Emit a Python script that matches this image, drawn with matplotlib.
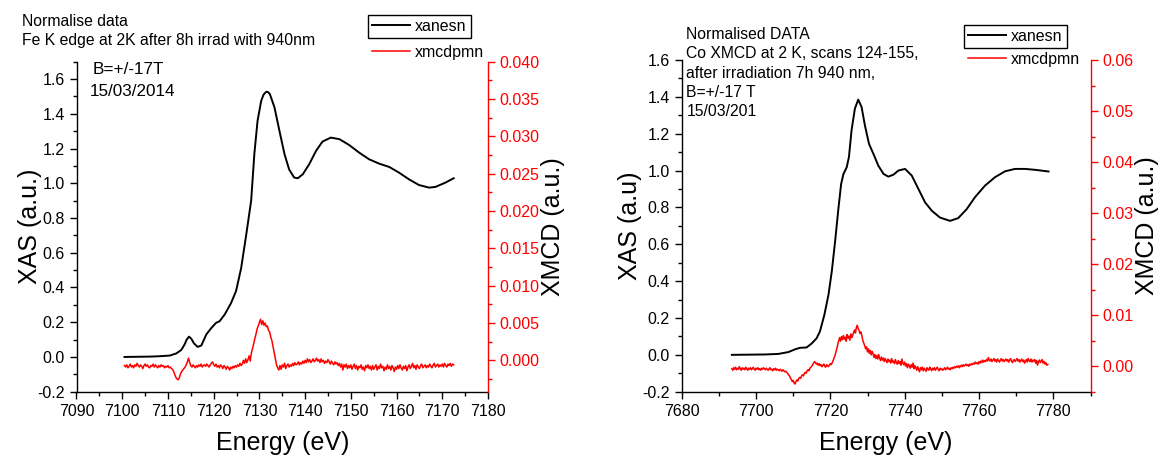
import numpy as np
import matplotlib.pyplot as plt
from matplotlib.ticker import MultipleLocator, FormatStrFormatter

plt.rcParams['font.family'] = ['Liberation Sans', 'DejaVu Sans']
plt.rcParams['axes.unicode_minus'] = False

# ---- Fe K edge (lijevi graf) ----
fe_x = [7100.5, 7103, 7106, 7108, 7110.4, 7111.8, 7112.9, 7113.6, 7114.1, 7114.6, 7115.1,
        7115.7, 7116.5, 7117.3, 7118.4, 7119.5, 7120.5, 7121.3, 7122.4, 7123.8, 7124.9,
        7126.0, 7127.1, 7128.2, 7128.9, 7129.6, 7130.4, 7130.9, 7131.5, 7131.9, 7132.3,
        7133.3, 7134.4, 7135.5, 7136.5, 7137.6, 7138.4, 7139.5, 7140.9, 7142.4, 7143.8,
        7145.6, 7147.5, 7149.6, 7151.8, 7154.0, 7156.2, 7158.4, 7160.5, 7162.7, 7164.9,
        7167.1, 7168.5, 7170.7, 7172.5]
fe_xas = [0.0, 0.001, 0.002, 0.004, 0.008, 0.02, 0.04, 0.07, 0.10, 0.117, 0.105,
          0.078, 0.058, 0.066, 0.13, 0.167, 0.196, 0.206, 0.244, 0.31, 0.38,
          0.51, 0.70, 0.90, 1.17, 1.36, 1.475, 1.51, 1.527, 1.525, 1.513,
          1.437, 1.30, 1.167, 1.08, 1.033, 1.029, 1.052, 1.11, 1.187, 1.24,
          1.263, 1.254, 1.221, 1.177, 1.138, 1.113, 1.094, 1.062, 1.023, 0.99,
          0.975, 0.979, 1.004, 1.029]

# xmcd u jedinicama 1e-3, korak 0.25 eV od 7100.5
fe_x0 = 7100.5
fe_xmcd = [
    # 7100.5 - 7110.5
    -0.7, -0.9, -0.6, -1.0, -0.8, -0.5, -0.9, -0.7, -1.0, -0.6,
    -0.8, -0.4, -0.7, -0.9, -0.6, -0.8, -1.1, -0.7, -0.5, -0.8,
    -0.6, -0.9, -1.0, -0.7, -0.8, -0.5, -0.9, -0.6, -0.8, -1.0,
    -0.7, -0.9, -0.6, -0.8, -0.7, -1.0, -0.8, -0.9, -0.7, -1.0,
    -0.9,
    # 7110.75 - 7114.5 (udubljenje)
    -1.1, -1.2, -1.5, -1.9, -2.3, -2.5, -2.6, -2.3, -1.8, -1.5,
    -1.3, -1.1, -0.9, -0.6, -0.2, 0.3,
    # 7114.75 - 7127.5
    -0.3, -0.7, -0.9, -0.6, -0.8, -1.0, -0.7, -0.9, -0.6, -0.8,
    -0.5, -0.9, -0.7, -0.6, -0.8, -0.5, -0.7, -0.9, -0.6, -0.4,
    -0.2, -0.6, -0.8, -0.5, -0.9, -0.7, -1.0, -0.6, -0.8, -1.1,
    -0.7, -0.9, -1.2, -0.8, -1.0, -1.3, -0.9, -1.1, -0.8, -1.0,
    -0.7, -0.9, -0.6, -0.8, -0.4, -0.7, -0.5, 0.0, -0.4, 0.2,
    -0.3, 0.1,
    # 7127.75 - 7134.5 (pik)
    0.6, -0.1, 1.0, 1.6, 2.2, 2.9, 3.5, 4.2, 4.6, 5.1,
    5.5, 4.8, 5.3, 4.7, 5.0, 4.5, 4.6, 4.0, 3.8, 3.1,
    2.6, 1.8, 1.0, 0.2, -0.6, -1.0, -1.3, -0.7,
    # 7134.75 - 7172.5
    -1.2, -0.6, -0.9, -0.4, -1.1, -0.7, -0.5, -0.9, -0.6, -0.8,
    -0.4, -0.7, -0.3, -0.6, -0.5, -0.2, -0.6, -0.3, -0.5, -0.1,
    -0.4, 0.0, -0.3, 0.2, -0.2, 0.1, -0.3, -0.1, 0.2, -0.2,
    0.0, 0.3, -0.1, 0.1, -0.3, 0.2, -0.2, 0.0, -0.4, -0.1,
    -0.3, 0.1, -0.2, -0.5, -0.1, -0.4, -0.6, -0.2, -0.5, -0.3,
    -0.7, -0.4, -0.9, -0.5, -1.3, -0.6, -0.9, -0.5, -1.1, -0.7,
    -1.0, -0.6, -1.2, -0.8, -0.5, -1.1, -0.7, -1.3, -0.8, -1.0,
    -0.6, -1.2, -0.9, -1.4, -0.7, -1.0, -0.6, -1.1, -0.8, -1.3,
    -0.7, -1.2, -0.9, -0.6, -1.3, -0.8, -1.1, -0.5, -1.0, -0.8,
    -1.4, -0.9, -1.2, -0.6, -1.1, -0.8, -1.3, -0.7, -1.0, -1.5,
    -0.9, -1.2, -0.7, -1.1, -0.6, -1.0, -1.3, -0.8, -1.1, -0.7,
    -1.4, -0.9, -0.6, -1.1, -0.8, -0.4, -1.0, -0.7, -1.2, -0.6,
    -0.9, -1.1, -0.7, -0.5, -1.0, -0.8, -0.6, -1.0, -0.7, -0.9,
    -0.5, -0.8, -1.0, -0.6, -0.4, -0.9, -0.7, -0.5, -0.9, -0.6,
    -0.8, -0.5, -0.9, -0.4, -0.7, -0.9, -0.5, -0.7, -0.4, -0.8,
    -0.5, -0.6]

# ---- Co XMCD (desni graf) ----
co_x = [7693.5, 7698, 7702.4, 7706.0, 7708.7, 7710.5, 7711.8, 7713.6, 7715.0, 7716.3,
        7717.2, 7718.4, 7719.5, 7720.4, 7721.3, 7722.2, 7722.9, 7723.5, 7724.4, 7725.0,
        7725.7, 7726.6, 7727.5, 7728.4, 7729.3, 7730.4, 7731.6, 7732.9, 7734.3, 7735.6,
        7737.0, 7738.3, 7740.1, 7741.9, 7743.7, 7745.5, 7747.3, 7749.5, 7752.2, 7754.4,
        7756.7, 7758.9, 7761.6, 7764.3, 7767.0, 7769.7, 7772.4, 7775.1, 7778.7]
co_xas = [0.0, 0.001, 0.002, 0.005, 0.015, 0.03, 0.038, 0.04, 0.062, 0.09,
          0.127, 0.218, 0.327, 0.455, 0.62, 0.80, 0.927, 0.98, 1.018, 1.073,
          1.218, 1.336, 1.385, 1.345, 1.245, 1.145, 1.09, 1.027, 0.982, 0.967,
          0.978, 1.0, 1.009, 0.973, 0.90, 0.827, 0.782, 0.745, 0.727, 0.742,
          0.791, 0.855, 0.918, 0.964, 0.996, 1.009, 1.009, 1.004, 0.995]

co_x0 = 7693.5
co_xmcd = [
    # 7693.5 - 7707.75
    -0.5, -0.8, -0.3, -0.6, -0.2, -0.7, -0.4, -0.6, -0.1, -0.5,
    -0.8, -0.3, -0.6, -0.4, -0.7, -0.2, -0.5, -0.8, -0.4, -0.6,
    -0.3, -0.7, -0.5, -0.2, -0.6, -0.8, -0.4, -0.6, -0.3, -0.7,
    -0.5, -0.8, -0.4, -0.6, -0.3, -0.5, -0.7, -0.4, -0.6, -0.8,
    -0.5, -0.3, -0.7, -0.6, -0.9, -0.5, -0.7, -0.4, -0.8, -0.6,
    -0.7, -0.9, -0.6, -0.8, -1.0, -0.7, -0.9, -1.1,
    # 7708 - 7715 (udubljenje)
    -1.0, -1.2, -1.4, -1.7, -1.9, -2.3, -2.6, -3.0, -2.8, -3.3,
    -3.5, -3.0, -2.7, -2.9, -2.4, -2.2, -2.4, -1.9, -1.7, -1.9,
    -1.4, -1.2, -1.4, -0.9, -0.7, -0.9, -0.4, -0.2, 0.0,
    # 7715.25 - 7720.75
    0.3, 0.6, 0.9, 0.7, 0.4, 0.6, 0.2, 0.5, 0.1, 0.3,
    -0.1, 0.2, 0.4, 0.0, -0.2, 0.3, 0.1, -0.1, 0.2, 0.5,
    0.3, 0.7, 1.1,
    # 7721 - 7729.75 (pik)
    1.6, 2.1, 2.8, 3.5, 4.3, 5.0, 5.6, 4.9,
    5.8, 5.2, 6.0, 5.3, 5.7, 4.9, 6.2, 5.5,
    5.9, 5.1, 6.3, 5.6, 6.0, 6.6, 7.1, 6.5,
    7.6, 8.0, 7.3, 7.0, 6.4, 6.7, 5.8, 5.0,
    4.5, 4.0, 3.4, 3.8,
    # 7730 - 7778.5
    2.8, 3.4, 2.5, 3.1, 2.2, 2.9, 2.4, 1.7, 2.3, 1.5,
    2.1, 1.4, 2.3, 1.6, 1.1, 1.8, 1.2, 1.6, 0.9, 1.5,
    1.1, 0.7, 1.4, 0.9, 1.2, 0.6, 1.5, 0.8, 1.0, 0.5,
    1.3, 0.7, 0.4, 1.1, 0.5, 0.9, 0.2, 1.4, 0.6, 0.3,
    0.8, 0.0, 0.5, -0.3, 0.4, 0.1, -0.4, 0.3, -0.2, 0.6,
    -0.5, 0.1, -0.3, -0.8, -0.1, -0.6, -1.1, -0.3, -0.7, -0.2,
    -0.9, -0.4, -0.7, -1.0, -0.3, -0.6, -0.8, -0.2, -0.5, -0.9,
    -0.4, -0.7, -0.3, -0.8, -0.5, -0.2, -0.6, -0.9, -0.4, -0.7,
    -0.5, -0.8, -0.6, -0.3, -0.7, -0.5, -0.2, -0.6, -0.4, -0.7,
    -0.3, -0.5, -0.2, -0.4, -0.1, -0.3, 0.0, -0.2, 0.1, -0.3,
    0.0, 0.2, -0.1, 0.3, 0.0, 0.2, 0.4, 0.1, 0.3, 0.0,
    0.4, 0.2, 0.5, 0.3, 0.6, 0.4, 0.8, 0.5, 0.7, 0.4,
    0.9, 0.6, 1.0, 0.7, 1.2, 0.8, 1.1, 0.9, 1.3, 1.0,
    1.7, 1.2, 1.0, 1.4, 0.9, 1.2, 1.5, 1.0, 1.3, 0.8,
    1.4, 1.1, 0.8, 1.2, 1.5, 1.0, 1.3, 0.9, 1.2, 1.4,
    1.0, 1.3, 0.8, 1.2, 1.5, 1.0, 0.7, 1.1, 1.3, 0.9,
    1.2, 1.5, 1.0, 1.3, 0.8, 1.1, 1.4, 0.9, 1.2, 0.6,
    1.0, 1.3, 0.8, 1.5, 1.1, 0.9, 1.4, 0.8, 1.2, 1.0,
    1.3, 0.6, 1.1, 0.2, 0.9, 1.2, 0.7, 1.0, 1.3, 0.6,
    0.9, 0.4, 0.7, 0.2, 0.3]

W, H = 1165, 455
RED = '#ff0000'
FS_TICK = 11.5
FS_LAB = 18
STEP = 0.25


def box(l, t, r, b):
    return [l / W, 1 - b / H, (r - l) / W, (b - t) / H]


def setup(ax, ax2, xlim, xmaj, xmin, ylim, ylim2, y2maj, y2min, y2fmt):
    ax.set_xlim(*xlim)
    ax.set_ylim(*ylim)
    ax2.set_ylim(*ylim2)
    ax.xaxis.set_major_locator(MultipleLocator(xmaj))
    ax.xaxis.set_minor_locator(MultipleLocator(xmin))
    ax.yaxis.set_major_locator(MultipleLocator(0.2))
    ax.yaxis.set_minor_locator(MultipleLocator(0.1))
    ax.yaxis.set_major_formatter(FormatStrFormatter('%.1f'))
    ax2.yaxis.set_major_locator(MultipleLocator(y2maj))
    ax2.yaxis.set_minor_locator(MultipleLocator(y2min))
    ax2.yaxis.set_major_formatter(FormatStrFormatter(y2fmt))
    for a in (ax, ax2):
        a.spines['top'].set_visible(False)
        for s in a.spines.values():
            s.set_linewidth(1.0)
    ax.spines['right'].set_visible(False)
    ax2.spines['left'].set_visible(False)
    ax2.spines['bottom'].set_visible(False)
    ax2.spines['right'].set_color(RED)
    ax.tick_params(which='both', direction='out', labelsize=FS_TICK, width=1.0)
    ax.tick_params(which='major', length=5)
    ax.tick_params(which='minor', length=3)
    ax2.tick_params(which='both', direction='out', labelsize=FS_TICK, width=1.0,
                    colors=RED)
    ax2.tick_params(which='major', length=5)
    ax2.tick_params(which='minor', length=3)
    ax.set_xlabel('Energy (eV)', fontsize=FS_LAB)
    ax.xaxis.set_label_coords(0.5, -0.118)


fig = plt.figure(figsize=(11.65, 4.55), dpi=100)

# lijevi graf
axL = fig.add_axes(box(76.5, 61.7, 488, 391.7))
axL2 = axL.twinx()
lineL, = axL.plot(fe_x, fe_xas, color='black', lw=1.4)
fe_e = fe_x0 + STEP * np.arange(len(fe_xmcd))
redL, = axL2.plot(fe_e, np.array(fe_xmcd) * 1e-3, color=RED, lw=1.1)
setup(axL, axL2, (7090, 7180), 10, 5, (-0.2, 1.7), (-0.0042, 0.040),
      0.005, 0.0025, '%.3f')
axL.set_ylabel('XAS (a.u.)', fontsize=FS_LAB)
axL.yaxis.set_label_coords(-0.085, 0.5)
axL2.set_ylabel('XMCD (a.u.)', fontsize=FS_LAB, color='black')
axL2.yaxis.set_label_coords(1.128, 0.5)

# desni graf
axR = fig.add_axes(box(681.7, 60, 1090.5, 391.7))
axR2 = axR.twinx()
lineR, = axR.plot(co_x, co_xas, color='black', lw=1.4)
co_e = co_x0 + STEP * np.arange(len(co_xmcd))
redR, = axR2.plot(co_e, np.array(co_xmcd) * 1e-3, color=RED, lw=1.1)
setup(axR, axR2, (7680, 7790), 20, 10, (-0.2, 1.6), (-0.005, 0.06),
      0.01, 0.005, '%.2f')
axR.set_ylabel('XAS (a.u)', fontsize=FS_LAB)
axR.yaxis.set_label_coords(-0.096, 0.5)
axR2.set_ylabel('XMCD (a.u.)', fontsize=FS_LAB, color='black')
axR2.yaxis.set_label_coords(1.110, 0.5)

# tekstovi
fs_small = 11.3
fig.text(22 / W, 1 - 21.7 / H, 'Normalise data', fontsize=fs_small, va='center')
fig.text(22 / W, 1 - 40.7 / H, 'Fe K edge at 2K after 8h irrad with 940nm',
         fontsize=fs_small, va='center')
fig.text(93 / W, 1 - 70 / H, 'B=+/-17T', fontsize=12.3, va='center')
fig.text(90 / W, 1 - 91 / H, '15/03/2014', fontsize=12.3, va='center')

right_lines = ['Normalised DATA', 'Co XMCD at 2 K, scans 124-155,',
               'after irradiation 7h 940 nm,', 'B=+/-17 T', '15/03/201']
for i, t in enumerate(right_lines):
    fig.text(686.5 / W, 1 - (34.3 + 19.35 * i) / H, t, fontsize=fs_small, va='center')


# legende
def legends(ax, ax2, line, red, x, ytop1, ytop2):
    leg1 = ax.legend([line], ['xanesn'], loc='upper left', bbox_to_anchor=(x / W, 1 - ytop1 / H),
                     bbox_transform=fig.transFigure, frameon=True, fancybox=False,
                     edgecolor='black', framealpha=1, fontsize=FS_TICK, handlelength=2.4,
                     borderpad=0.25, borderaxespad=0, handletextpad=0.3)
    leg1.get_frame().set_linewidth(1.0)
    ax2.legend([red], ['xmcdpmn'], loc='upper left', bbox_to_anchor=(x / W, 1 - ytop2 / H),
               bbox_transform=fig.transFigure, frameon=False, fontsize=FS_TICK,
               handlelength=2.4, borderpad=0.25, borderaxespad=0, handletextpad=0.3)


legends(axL, axL2, lineL, redL, 368, 15, 41)
legends(axR, axR2, lineR, redR, 964, 25, 48)

fig.savefig('out.png', dpi=100)
